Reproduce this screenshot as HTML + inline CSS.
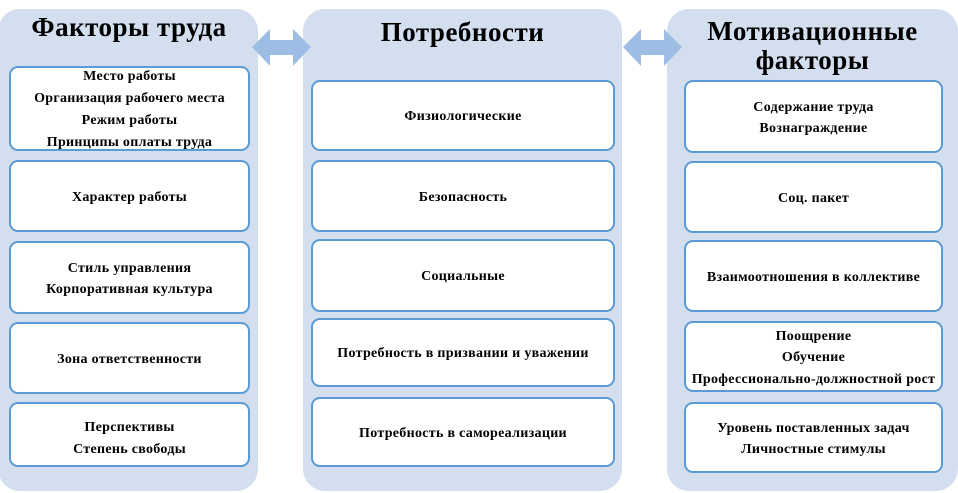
<!DOCTYPE html>
<html><head><meta charset="utf-8"><style>
body{margin:0;width:958px;height:493px;background:#fff;position:relative;overflow:hidden;font-family:"Liberation Serif",serif;font-weight:bold;color:#000}
.p{position:absolute;background:#d3deef;border-radius:22px}
.t{position:absolute;text-align:center;font-size:27px;line-height:30px;letter-spacing:0.5px}
.b{position:absolute;background:#fff;border:2.5px solid #5b9bd5;border-radius:9px;box-sizing:border-box;display:flex;flex-direction:column;justify-content:center;align-items:center;font-size:14px;letter-spacing:0.3px;line-height:21.5px;text-align:center;white-space:nowrap;padding-top:3px}
</style></head><body>
<div class="p" style="left:-2px;top:9px;width:260px;height:482px"></div>
<div class="p" style="left:303px;top:9px;width:319px;height:482px"></div>
<div class="p" style="left:667px;top:9px;width:291px;height:482px"></div>
<svg style="position:absolute;left:0;top:0" width="958" height="493">
<polygon points="252,47 270,29 270,40 293,40 293,29 311,47 293,66 293,55 270,55 270,66" fill="#9dbde4"/>
<polygon points="623,47 641,29 641,40 664,40 664,29 682,47 664,66 664,55 641,55 641,66" fill="#9dbde4"/>
</svg>
<div class="t" style="left:0;top:12px;width:258px">Факторы труда</div>
<div class="t" style="left:303px;top:17px;width:319px">Потребности</div>
<div class="t" style="left:667px;top:17px;width:291px;line-height:29px">Мотивационные<br>факторы</div>

<div class="b" style="left:9px;top:66px;width:241px;height:85px;line-height:22px">Место работы<br>Организация рабочего места<br>Режим работы<br>Принципы оплаты труда</div>
<div class="b" style="left:9px;top:160px;width:241px;height:72px">Характер работы</div>
<div class="b" style="left:9px;top:241px;width:241px;height:73px">Стиль управления<br>Корпоративная культура</div>
<div class="b" style="left:9px;top:322px;width:241px;height:72px">Зона ответственности</div>
<div class="b" style="left:9px;top:402px;width:241px;height:65px;padding-top:8px">Перспективы<br>Степень свободы</div>

<div class="b" style="left:311px;top:80px;width:304px;height:71px">Физиологические</div>
<div class="b" style="left:311px;top:160px;width:304px;height:72px">Безопасность</div>
<div class="b" style="left:311px;top:239px;width:304px;height:73px">Социальные</div>
<div class="b" style="left:311px;top:318px;width:304px;height:69px">Потребность в призвании и уважении</div>
<div class="b" style="left:311px;top:397px;width:304px;height:70px">Потребность в самореализации</div>

<div class="b" style="left:684px;top:80px;width:259px;height:73px">Содержание труда<br>Вознаграждение</div>
<div class="b" style="left:684px;top:161px;width:259px;height:72px">Соц. пакет</div>
<div class="b" style="left:684px;top:240px;width:259px;height:72px">Взаимоотношения в коллективе</div>
<div class="b" style="left:684px;top:321px;width:259px;height:71px">Поощрение<br>Обучение<br>Профессионально-должностной рост</div>
<div class="b" style="left:684px;top:402px;width:259px;height:71px">Уровень поставленных задач<br>Личностные стимулы</div>
</body></html>
